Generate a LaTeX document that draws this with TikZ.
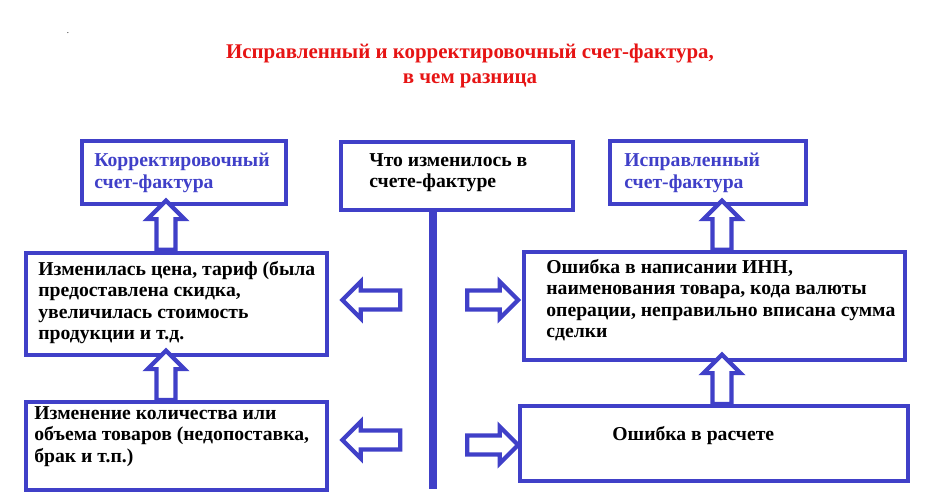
\documentclass[tikz,border=0pt]{standalone}
\usepackage{fontspec}
\setmainfont{Liberation Serif}
\usetikzlibrary{shapes.arrows}
\definecolor{frameblue}{RGB}{64,64,200}
\definecolor{titlered}{RGB}{230,20,20}
\begin{document}
\begin{tikzpicture}[x=0.02cm,y=-0.02cm,
    box/.style={draw=frameblue, line width=2.4pt},
    txt/.style={font=\bfseries\fontsize{11.2}{12.2}\selectfont, align=left, anchor=north west, inner sep=0pt},
    blockarrow/.style={single arrow, draw=frameblue, line width=2.4pt, fill=white,
        minimum height=#1, minimum width=21pt, single arrow head extend=3.5pt, inner sep=2.5pt}]
    \useasboundingbox (0,0) rectangle (936,503);
    % Заголовок
    \node[font=\bfseries\fontsize{11.9}{14}\selectfont, text=titlered, align=center] (title) at (470,66)
        {Исправленный и корректировочный счет-фактура,\\в чем разница};
    \node[font=\tiny, inner sep=0pt] (dot) at (68,33) {.};

    % Верхний ряд
    \draw[box] (82,141) rectangle (286,204);
    \node[txt, text=frameblue] (korr) at (94,153) {Корректировочный\\счет-фактура};
    \draw[box] (341,142) rectangle (573,210);
    \node[txt] (what) at (369,153) {Что изменилось в\\счете-фактуре};
    \draw[box] (610,141) rectangle (806,204);
    \node[txt, text=frameblue] (ispr) at (624,153) {Исправленный\\счет-фактура};

    % Ось
    \coordinate (axtop) at (433,210);
    \coordinate (axbot) at (433,489);
    \draw[frameblue, line width=4.5pt] (axtop) -- (axbot);

    % Средний ряд
    \draw[box] (26,253) rectangle (327,355);
    \node[txt] (price) at (38,261) {Изменилась цена, тариф (была\\предоставлена скидка,\\увеличилась стоимость\\продукции и т.д.};
    \draw[box] (524,252) rectangle (905,360);
    \node[txt] (inn) at (546,259) {Ошибка в написании ИНН,\\наименования товара, кода валюты\\операции, неправильно вписана сумма\\сделки};

    % Нижний ряд
    \draw[box] (26,402) rectangle (327,490);
    \node[txt] (qty) at (34,406) {Изменение количества или\\объема товаров (недопоставка,\\брак и т.п.)};
    \draw[box] (520,406) rectangle (908,481);
    \node[txt] (calc) at (612,426) {Ошибка в расчете};

    % Стрелки вверх
    \node[blockarrow=28pt, rotate=90] (up1) at (166,230) {};
    \node[blockarrow=28pt, rotate=90] (up2) at (166,380) {};
    \node[blockarrow=28pt, rotate=90] (up3) at (722,230) {};
    \node[blockarrow=28pt, rotate=90] (up4) at (722,384) {};

    % Стрелки в стороны
    \node[blockarrow=33pt, rotate=180] (l1) at (376,300) {};
    \node[blockarrow=29pt] (r1) at (488,300) {};
    \node[blockarrow=33pt, rotate=180] (l2) at (376,440) {};
    \node[blockarrow=29pt] (r2) at (488,445) {};
\end{tikzpicture}
\end{document}
